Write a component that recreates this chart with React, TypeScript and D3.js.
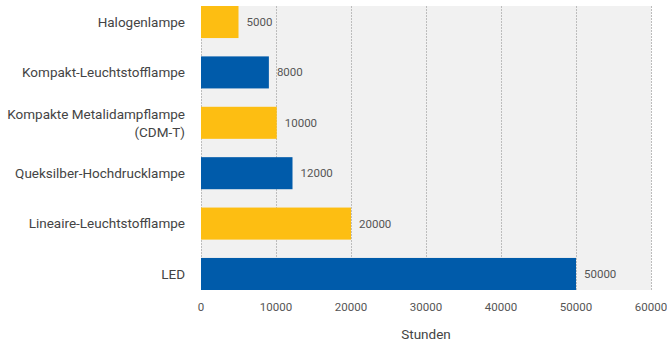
import React from "react";
import * as d3 from "d3";

const categories: string[][] = [
  ["Halogenlampe"],
  ["Kompakt-Leuchtstofflampe"],
  ["Kompakte Metalidampflampe", "(CDM-T)"],
  ["Queksilber-Hochdrucklampe"],
  ["Lineaire-Leuchtstofflampe"],
  ["LED"],
];
// bar lengths as drawn in the picture
const values: number[] = [5000, 9050, 10100, 12200, 20000, 50000];
// value labels as printed
const valueLabels: string[] = ["5000", "8000", "10000", "12000", "20000", "50000"];
const barColors: string[] = ["#FDBE12", "#005BAA", "#FDBE12", "#005BAA", "#FDBE12", "#005BAA"];
const ticks: number[] = [0, 10000, 20000, 30000, 40000, 50000, 60000];
const axisTitle = "Stunden";

const W = 667;
const H = 342;
const left = 201;
const right = 651;
const top = 6;
const bottom = 290;
const font = "Roboto, sans-serif";

export default function App() {
  const x = d3.scaleLinear().domain([0, 60000]).range([left, right]);
  const y = d3
    .scaleBand<number>()
    .domain(d3.range(categories.length))
    .range([top, bottom])
    .paddingInner(0.364)
    .paddingOuter(0);
  const bw = y.bandwidth();
  return (
    <svg width={W} height={H} style={{ position: "absolute", left: 0, top: 0 }}>
      <rect x={left} y={top} width={right - left} height={bottom - top} fill="#F1F1F1" />
      {ticks.map((t) => (
        <line
          key={"g" + t}
          x1={x(t) + 0.5}
          x2={x(t) + 0.5}
          y1={top}
          y2={bottom}
          stroke="#BDBDBD"
          strokeWidth={1}
          strokeDasharray="2,1"
        />
      ))}
      {values.map((v, i) => (
        <g key={"b" + i}>
          <rect x={x(0)} y={y(i)!} width={x(v) - x(0)} height={bw} fill={barColors[i]} />
          <text
            x={x(v) + 8}
            y={y(i)! + bw / 2}
            dy="0.35em"
            fontFamily={font}
            fontSize={11.5}
            fill="#555"
          >
            {valueLabels[i]}
          </text>
        </g>
      ))}
      {categories.map((lines, i) => {
        const cy = y(i)! + bw / 2;
        const lh = 18;
        return (
          <text
            key={"c" + i}
            textAnchor="end"
            fontFamily={font}
            fontSize={13.5}
            fill="#444"
          >
            {lines.map((l, j) => (
              <tspan key={j} x={185} y={cy + (j - (lines.length - 1) / 2) * lh} dy="0.35em">
                {l}
              </tspan>
            ))}
          </text>
        );
      })}
      {ticks.map((t) => (
        <text
          key={"t" + t}
          x={x(t)}
          y={307}
          dy="0.35em"
          textAnchor="middle"
          fontFamily={font}
          fontSize={11.5}
          fill="#555"
        >
          {t}
        </text>
      ))}
      <text
        x={(left + right) / 2}
        y={334}
        dy="0.35em"
        textAnchor="middle"
        fontFamily={font}
        fontSize={13.5}
        fill="#444"
      >
        {axisTitle}
      </text>
    </svg>
  );
}
